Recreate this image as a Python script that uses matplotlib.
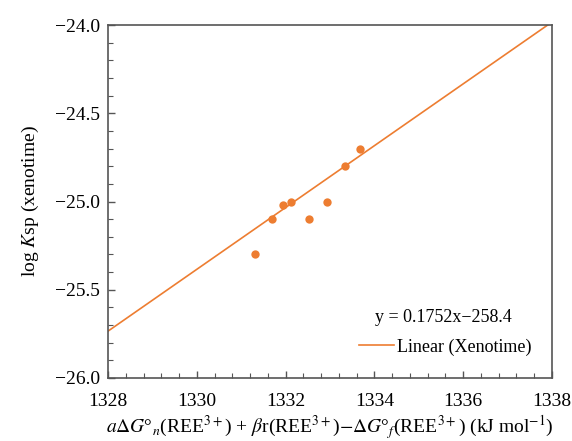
import matplotlib
matplotlib.use("Agg")
import numpy as np
import matplotlib.pyplot as plt
from matplotlib.ticker import MultipleLocator, FuncFormatter

plt.rcParams['font.family'] = 'serif'
plt.rcParams['font.serif'] = ['Liberation Serif', 'DejaVu Serif']
plt.rcParams['mathtext.fontset'] = 'stix'

# free-energy descriptor vs log Ksp of xenotime
x_pts = [1331.30, 1331.70, 1331.95, 1332.11, 1332.53, 1332.93, 1333.34, 1333.67]
y_pts = [-25.30, -25.10, -25.02, -25.00, -25.10, -25.00, -24.80, -24.70]
slope, intercept = 0.1752, -258.4
x_range = [1328, 1338]
y_range = [-26.0, -24.0]

orange = '#ED7D31'
spine_col = '#555555'

fig = plt.figure(figsize=(5.72, 4.41), dpi=100)
ax = fig.add_axes([0.189, 0.143, 0.776, 0.800])

xl = np.array(x_range, dtype=float)
ax.plot(xl, slope * xl + intercept, color=orange, lw=1.2, label='Linear (Xenotime)', zorder=2)
ax.plot(x_pts, y_pts, 'o', color=orange, ms=6, mec='none', zorder=3)

ax.set_xlim(*x_range)
ax.set_ylim(*y_range)
ax.xaxis.set_major_locator(MultipleLocator(2))
ax.xaxis.set_minor_locator(MultipleLocator(0.4))
ax.yaxis.set_major_locator(MultipleLocator(0.5))
ax.yaxis.set_minor_locator(MultipleLocator(0.1))
ax.xaxis.set_major_formatter(FuncFormatter(lambda v, p: '{:.0f}'.format(v)))
ax.yaxis.set_major_formatter(FuncFormatter(lambda v, p: '\u2212{:.1f}'.format(-v)))

ax.tick_params(which='both', direction='in', color=spine_col, labelsize=14)
ax.tick_params(which='major', length=5, width=1)
ax.tick_params(which='minor', length=3.5, width=0.8)
ax.tick_params(axis='x', pad=11)
ax.tick_params(axis='y', pad=6)
for s in ax.spines.values():
    s.set_color(spine_col)
    s.set_linewidth(1.2)

ax.set_xlabel(r'$a\Delta G$°$_n$(REE$^{3+}$) + $\beta$r(REE$^{3+}$)$-\Delta G$°$_f$(REE$^{3+}$) (kJ mol$^{-1}$)',
              fontsize=14, labelpad=2)
ax.set_ylabel(r'log $K$sp (xenotime)', fontsize=14, labelpad=10)

ax.text(0.755, 0.17, 'y = 0.1752x\u2212258.4', transform=ax.transAxes, fontsize=13,
        ha='center', va='center')
ax.legend(loc='center left', bbox_to_anchor=(0.55, 0.088), frameon=False, fontsize=13,
          handlelength=1.9, handletextpad=0.2, borderaxespad=0)

fig.savefig('out.png', dpi=100)
